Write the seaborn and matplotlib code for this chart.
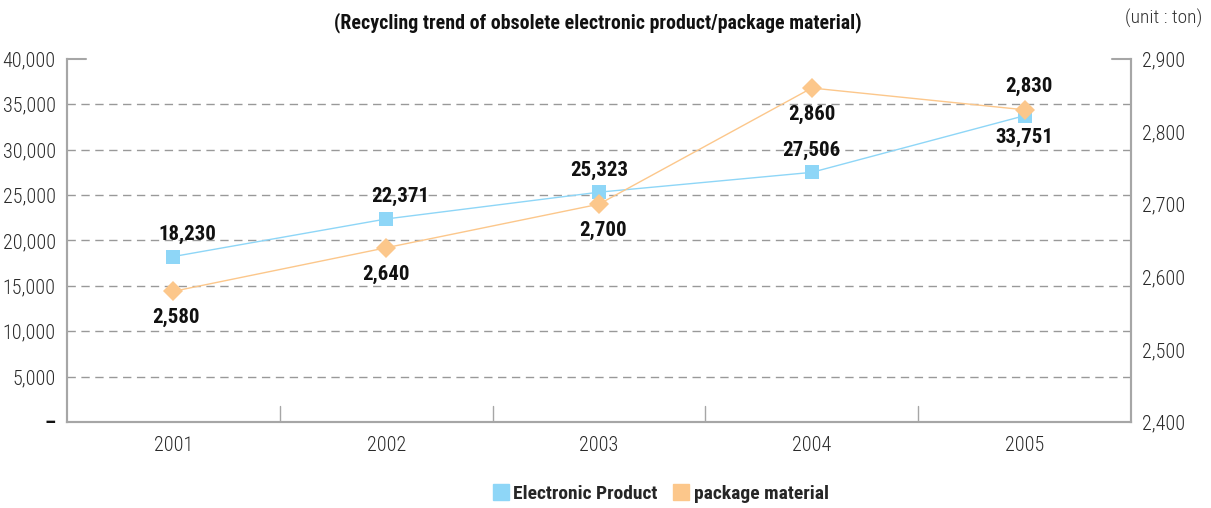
import matplotlib
matplotlib.use("Agg")
import matplotlib.pyplot as plt
import seaborn as sns
import pandas as pd
from matplotlib.lines import Line2D
import logging
logging.getLogger("matplotlib.font_manager").setLevel(logging.ERROR)

years = ["2001", "2002", "2003", "2004", "2005"]
electronic = [18230, 22371, 25323, 27506, 33751]
package = [2580, 2640, 2700, 2860, 2830]
left_ticks = [0, 5000, 10000, 15000, 20000, 25000, 30000, 35000, 40000]
left_labels = ["–", "5,000", "10,000", "15,000", "20,000", "25,000", "30,000", "35,000", "40,000"]
right_ticks = [2400, 2500, 2600, 2700, 2800, 2900]
right_labels = ["2,400", "2,500", "2,600", "2,700", "2,800", "2,900"]
title = "(Recycling trend of obsolete electronic product/package material)"
unit = "(unit : ton)"
names = ["Electronic Product", "package material"]

BLUE = "#8ed6f7"
ORANGE = "#fcc78b"
GRAY = "#a6a6a6"
FONT = ["Roboto Condensed", "Liberation Sans Narrow", "Roboto", "DejaVu Sans"]

sns.set_theme(style="white")
plt.rcParams["font.family"] = FONT

df = pd.DataFrame({"year": years, "electronic": electronic, "package": package})
df["x"] = range(len(years))

fig = plt.figure(figsize=(12.11, 5.08), dpi=100)
ax = fig.add_axes([0.0553, 0.1693, 0.8786, 0.7146])
ax2 = ax.twinx()

sns.lineplot(data=df, x="x", y="electronic", ax=ax, color=BLUE, lw=1,
             marker="s", markersize=10.5, markeredgewidth=0, label=names[0], legend=False)
sns.lineplot(data=df, x="x", y="package", ax=ax2, color=ORANGE, lw=1,
             marker="D", markersize=10, markeredgewidth=0, label=names[1], legend=False)

ax.set_xlim(-0.5, len(years) - 0.5)
ax.set_ylim(0, 40000)
ax2.set_ylim(2400, 2900)
ax.set_xticks(range(len(years)))
ax.set_xticklabels(years)
ax.set_yticks(left_ticks)
ax.set_yticklabels(left_labels)
ax2.set_yticks(right_ticks)
ax2.set_yticklabels(right_labels)
ax.set_xlabel("")
ax.set_ylabel("")
ax2.set_ylabel("")

for t in left_ticks[1:-1]:
    ax.axhline(t, color="#999999", lw=1, ls=(0, (6, 4)), zorder=0)
ax.axhline(40000, xmin=0, xmax=0.018, color=GRAY, lw=1.5, clip_on=False)
ax.axhline(40000, xmin=0.982, xmax=1, color=GRAY, lw=1.5, clip_on=False)

for b in [0.5, 1.5, 2.5, 3.5]:
    ax.plot([b, b], [0, 1800], color=GRAY, lw=1)

for a in (ax, ax2):
    for s in a.spines.values():
        s.set_color(GRAY)
        s.set_linewidth(1.5)
    a.spines["top"].set_visible(False)
ax.tick_params(axis="both", length=0, labelsize=14.5, colors="#2a2a2a", pad=8)
ax.tick_params(axis="x", pad=10)
ax2.tick_params(axis="y", length=0, labelsize=14.5, colors="#2a2a2a", pad=8)
for lab in ax.get_xticklabels() + ax.get_yticklabels() + ax2.get_yticklabels():
    lab.set_fontweight("light")
zero_lab = ax.get_yticklabels()[0]
zero_lab.set_fontweight("bold")
zero_lab.set_color("#111111")

lab_kw = dict(ha="center", fontsize=15, fontweight="bold", color="#111111")
e_off = [(10, 9), (10, 9), (0, 9), (0, 9), (0, -9)]
for i, v in enumerate(electronic):
    dx, dy = e_off[i]
    ax.annotate(f"{v:,}", (i, v), xytext=(dx, dy), textcoords="offset points",
                va="bottom" if dy > 0 else "top", **lab_kw)
p_off = [(2, -12), (0, -12), (3, -12), (0, -12), (3, 10)]
for i, v in enumerate(package):
    dx, dy = p_off[i]
    ax2.annotate(f"{v:,}", (i, v), xytext=(dx, dy), textcoords="offset points",
                 va="bottom" if dy > 0 else "top", **lab_kw)

fig.text(0.494, 0.955, title, ha="center", va="center", fontsize=14.3, fontweight="bold", color="#111111")
fig.text(0.961, 0.963, unit, ha="center", va="center", fontsize=14, fontweight="light", color="#333333")

handles = [Line2D([], [], ls="none", marker="s", markersize=11, color=BLUE),
           Line2D([], [], ls="none", marker="s", markersize=11, color=ORANGE)]
leg = fig.legend(handles, names, loc="center", bbox_to_anchor=(0.544, 0.027), ncol=2,
                 frameon=False, handletextpad=0.05, columnspacing=0.6, handlelength=1.2,
                 prop={"family": FONT, "size": 14, "weight": "bold"})

fig.savefig("out.png", dpi=100)
